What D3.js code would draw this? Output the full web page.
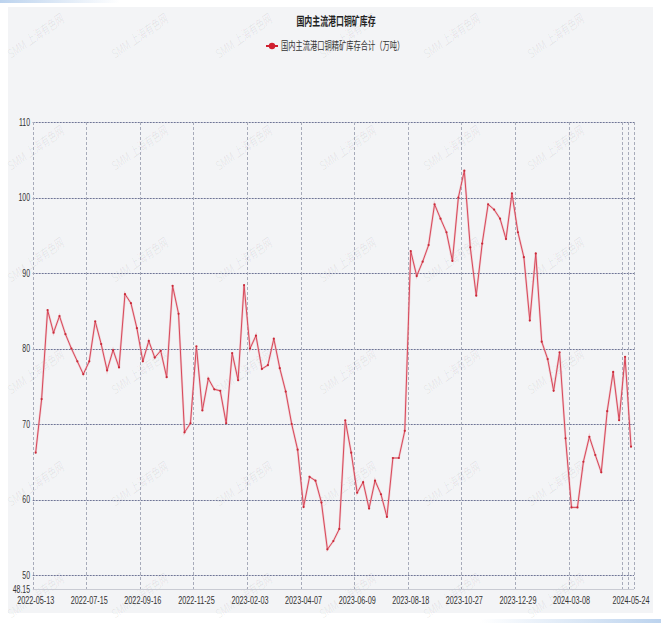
<!DOCTYPE html>
<html>
<head>
<meta charset="utf-8">
<script src="https://cdn.jsdelivr.net/npm/d3@7"></script>
<style>
  body { margin: 0; background: #ffffff; }
  text { font-family: "Liberation Sans", "Noto Sans CJK SC", sans-serif; }
</style>
</head>
<body>
<div id="chart"></div>
<script>
// weekly dates (category axis)
const dates = [
  "2022-05-13","2022-05-20","2022-05-27","2022-06-03","2022-06-10","2022-06-17","2022-06-24","2022-07-01","2022-07-08",
  "2022-07-15","2022-07-22","2022-07-29","2022-08-05","2022-08-12","2022-08-19","2022-08-26","2022-09-02","2022-09-09",
  "2022-09-16","2022-09-23","2022-09-30","2022-10-14","2022-10-21","2022-10-28","2022-11-04","2022-11-11","2022-11-18",
  "2022-11-25","2022-12-02","2022-12-09","2022-12-16","2022-12-23","2022-12-30","2023-01-06","2023-01-13","2023-01-20",
  "2023-02-03","2023-02-10","2023-02-17","2023-02-24","2023-03-03","2023-03-10","2023-03-17","2023-03-24","2023-03-31",
  "2023-04-07","2023-04-14","2023-04-21","2023-04-28","2023-05-05","2023-05-12","2023-05-19","2023-05-26","2023-06-02",
  "2023-06-09","2023-06-16","2023-06-30","2023-07-07","2023-07-14","2023-07-21","2023-07-28","2023-08-04","2023-08-11",
  "2023-08-18","2023-08-25","2023-09-01","2023-09-08","2023-09-15","2023-09-22","2023-09-29","2023-10-13","2023-10-20",
  "2023-10-27","2023-11-03","2023-11-10","2023-11-17","2023-11-24","2023-12-01","2023-12-08","2023-12-15","2023-12-22",
  "2023-12-29","2024-01-05","2024-01-12","2024-01-19","2024-01-26","2024-02-02","2024-02-08","2024-02-23","2024-03-01",
  "2024-03-08","2024-03-15","2024-03-22","2024-03-29","2024-04-03","2024-04-12","2024-04-19","2024-04-26","2024-05-10",
  "2024-05-17","2024-05-24"
];

// 国内主流港口铜精矿库存合计（万吨）
const stock = [
  66.2, 73.3, 85.1, 82.1, 84.3, 81.9, 80.0, 78.3, 76.6,
  78.3, 83.6, 80.6, 77.1, 79.8, 77.5, 87.2, 86.0, 82.7,
  78.3, 81.0, 78.8, 79.7, 76.2, 88.3, 84.6, 68.9, 70.1,
  80.3, 71.8, 76.0, 74.6, 74.4, 70.1, 79.4, 75.8, 88.4,
  80.0, 81.7, 77.3, 77.8, 81.3, 77.4, 74.3, 70.0, 66.6,
  59.0, 63.0, 62.5, 59.6, 53.4, 54.5, 56.1, 70.5, 66.2,
  60.9, 62.3, 58.8, 62.5, 60.7, 57.7, 65.5, 65.5, 69.1,
  92.9, 89.6, 91.5, 93.7, 99.1, 97.2, 95.4, 91.6, 100.0,
  103.55, 93.4, 87.0, 93.9, 99.1, 98.4, 97.2, 94.5, 100.55,
  95.4, 92.1, 83.7, 92.6, 80.9, 78.6, 74.4, 79.5, 68.1,
  58.96, 58.96, 65.0, 68.3, 65.9, 63.6, 71.7, 76.9, 70.5,
  78.9, 67.0
];

const yTicks = [50, 60, 70, 80, 90, 100, 110];
const yMin = 48.15;
const gridIdx = [0, 9, 18, 27, 36, 45, 54, 63, 72, 81, 90, 99, 100];
const labelIdx = [0, 9, 18, 27, 36, 45, 54, 63, 72, 81, 90, 100];

const title = "国内主流港口铜矿库存";
const seriesName = "国内主流港口铜精矿库存合计（万吨）";

const W = 661, H = 623;
const SX = 0.66; // squeezed text look
const plot = { left: 32.7, right: 634, top: 122, bottom: 589 };

const svg = d3.select("#chart").append("svg")
  .attr("width", W).attr("height", H);

// light blue edge strips
const defs = svg.append("defs");
const g1 = defs.append("linearGradient").attr("id", "edgeL");
g1.append("stop").attr("offset", "0%").attr("stop-color", "#bcd3ee");
g1.append("stop").attr("offset", "100%").attr("stop-color", "#ffffff");
const g2 = defs.append("linearGradient").attr("id", "edgeR");
g2.append("stop").attr("offset", "0%").attr("stop-color", "#ffffff");
g2.append("stop").attr("offset", "100%").attr("stop-color", "#bcd3ee");
svg.append("rect").attr("x", 0).attr("y", 0).attr("width", 120).attr("height", 3).attr("fill", "url(#edgeL)");
svg.append("rect").attr("x", 480).attr("y", 619).attr("width", 181).attr("height", 4).attr("fill", "url(#edgeR)");

// card background
svg.append("rect")
  .attr("x", 8).attr("y", 7).attr("width", 645).attr("height", 606)
  .attr("fill", "#f3f4f6");

// watermarks
const wm = svg.append("g");
for (let r = 0; r < 6; r++) {
  for (let c = 0; c < 6; c++) {
    wm.append("text")
      .attr("transform", `translate(${38 + c * 104},${40 + r * 112}) rotate(-35) scale(${SX},1)`)
      .attr("text-anchor", "middle")
      .attr("font-size", 13)
      .attr("font-style", "italic")
      .attr("fill", "rgba(0,0,0,0.07)")
      .text("SMM 上海有色网");
  }
}

const x = d3.scaleBand()
  .domain(dates)
  .range([plot.left, plot.right])
  .paddingInner(0).paddingOuter(0);

const y = d3.scaleLinear()
  .domain([yMin, 110])
  .range([plot.bottom, plot.top]);

const cx = (d, i) => x(dates[i]) + x.bandwidth() / 2;

// horizontal grid
svg.append("g").selectAll("line")
  .data(yTicks).enter().append("line")
  .attr("x1", plot.left).attr("x2", plot.right)
  .attr("y1", d => Math.round(y(d)) + 0.5).attr("y2", d => Math.round(y(d)) + 0.5)
  .attr("stroke", "#6f7596").attr("stroke-width", 1)
  .attr("stroke-dasharray", "2,1");

// vertical grid
const vx = gridIdx.map(i => x(dates[i])).concat([plot.right]);
svg.append("g").selectAll("line")
  .data(vx).enter().append("line")
  .attr("x1", d => Math.round(d) + 0.5).attr("x2", d => Math.round(d) + 0.5)
  .attr("y1", plot.top).attr("y2", plot.bottom)
  .attr("stroke", "#a7abba").attr("stroke-width", 1)
  .attr("stroke-dasharray", "3,2");

// x axis line
svg.append("line")
  .attr("x1", plot.left).attr("x2", plot.right)
  .attr("y1", plot.bottom + 0.5).attr("y2", plot.bottom + 0.5)
  .attr("stroke", "#c9cbd3");

// y labels
const yLab = yTicks.map(v => ({ v: v, t: String(v) })).concat([{ v: yMin, t: String(yMin) }]);
svg.append("g").selectAll("text")
  .data(yLab).enter().append("text")
  .attr("transform", d => `translate(30,${y(d.v) + 3.5}) scale(${SX},1)`)
  .attr("text-anchor", "end")
  .attr("font-size", 10.5)
  .attr("fill", "#333")
  .text(d => d.t);

// x labels
svg.append("g").selectAll("text")
  .data(labelIdx).enter().append("text")
  .attr("transform", i => `translate(${x(dates[i]) + x.bandwidth() / 2},${plot.bottom + 15}) scale(${SX},1)`)
  .attr("text-anchor", "middle")
  .attr("font-size", 11)
  .attr("fill", "#333")
  .text(i => dates[i]);

// series line
const line = d3.line()
  .x((d, i) => cx(d, i))
  .y(d => y(d));

svg.append("path")
  .datum(stock)
  .attr("fill", "none")
  .attr("stroke", "#eb9aa2")
  .attr("stroke-width", 2.2)
  .attr("stroke-opacity", 0.45)
  .attr("d", line);

svg.append("path")
  .datum(stock)
  .attr("fill", "none")
  .attr("stroke", "#d8485a")
  .attr("stroke-width", 1)
  .attr("d", line);

svg.append("g").selectAll("circle")
  .data(stock).enter().append("circle")
  .attr("cx", (d, i) => cx(d, i))
  .attr("cy", d => y(d))
  .attr("r", 1.1)
  .attr("fill", "#c92a38");

// title
svg.append("text")
  .attr("transform", `translate(336,26) scale(${SX},1)`)
  .attr("text-anchor", "middle")
  .attr("font-size", 12)
  .attr("font-weight", "bold")
  .attr("fill", "#222")
  .text(title);

// legend
const lg = svg.append("g");
lg.append("line")
  .attr("x1", 266).attr("x2", 278).attr("y1", 46).attr("y2", 46)
  .attr("stroke", "#d02030").attr("stroke-width", 2);
lg.append("circle")
  .attr("cx", 272).attr("cy", 46).attr("r", 3.2)
  .attr("fill", "#d02030");
lg.append("text")
  .attr("transform", `translate(281,50) scale(${SX},1)`)
  .attr("font-size", 11)
  .attr("fill", "#333")
  .text(seriesName);
</script>
</body>
</html>
